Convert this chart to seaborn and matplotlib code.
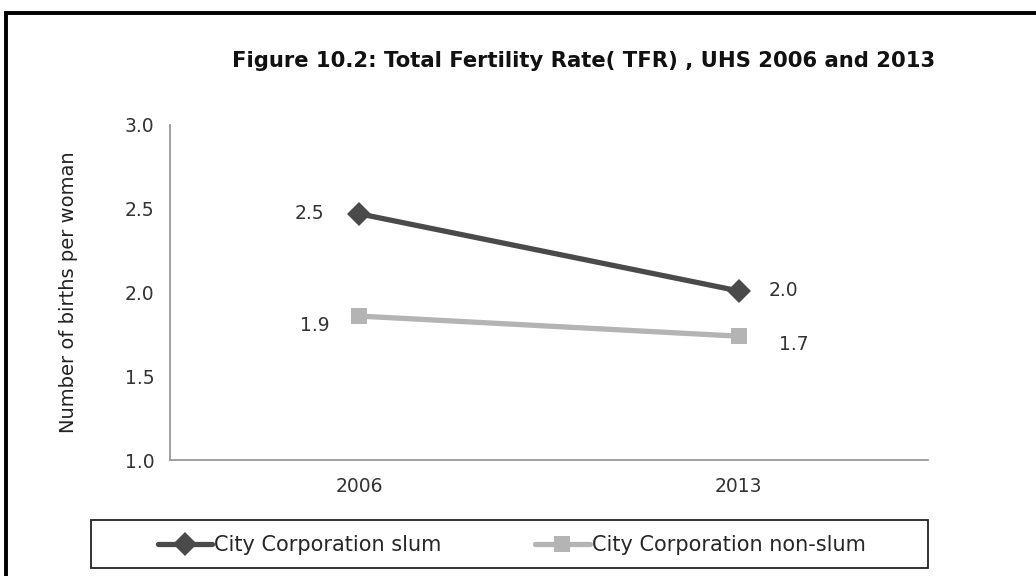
import matplotlib
matplotlib.use("Agg")
import matplotlib.pyplot as plt
import pandas as pd
import seaborn as sns
from matplotlib.patches import Rectangle

years = ["2006", "2013"]
slum = [2.47, 2.01]
non_slum = [1.86, 1.74]
series_names = ["City Corporation slum", "City Corporation non-slum"]
title = "Figure 10.2: Total Fertility Rate( TFR) , UHS 2006 and 2013"

sns.set_theme(style="white")
plt.rcParams['font.family'] = ['DejaVu Sans']

# long table for seaborn
df = pd.DataFrame({
    "Year": years * 2,
    "TFR": slum + non_slum,
    "Series": [series_names[0]] * 2 + [series_names[1]] * 2,
})

fig = plt.figure(figsize=(10.36, 5.76), dpi=100)
ax = fig.add_axes([0.164, 0.201, 0.732, 0.582])

palette = {series_names[0]: "#4a4a4a", series_names[1]: "#b4b4b4"}
markers = {series_names[0]: "D", series_names[1]: "s"}
sns.lineplot(data=df, x="Year", y="TFR", hue="Series", style="Series",
             palette=palette, markers=markers, dashes=False, linewidth=3.8,
             markersize=12, markeredgewidth=0, ax=ax)

ax.set_xlim(-0.5, 1.5)
ax.set_ylim(1.0, 3.0)
ax.set_yticks([1.0, 1.5, 2.0, 2.5, 3.0])
ax.set_yticklabels([f"{t:.1f}" for t in [1.0, 1.5, 2.0, 2.5, 3.0]])
ax.set_xlabel("")
ax.set_ylabel("Number of births per woman", fontsize=14, labelpad=34, color="#222222")
ax.tick_params(axis="y", labelsize=13.5, length=5, color="#999999", labelcolor="#333333", pad=6)
ax.tick_params(axis="x", labelsize=13.5, length=0, labelcolor="#333333", pad=12)
ax.set_xticks([-0.5, 0.5, 1.5], minor=True)
ax.tick_params(axis="x", which="minor", length=5, color="#999999")
for s in ["top", "right"]:
    ax.spines[s].set_visible(False)
for s in ["left", "bottom"]:
    ax.spines[s].set_color("#999999")
    ax.spines[s].set_linewidth(1.3)

# data labels
offsets = {series_names[0]: [(-50, 0), (45, 0)], series_names[1]: [(-45, -9), (55, -8)]}
for name, vals in zip(series_names, [slum, non_slum]):
    for i, v in enumerate(vals):
        ax.annotate(f"{v:.1f}", (i, v), xytext=offsets[name][i], textcoords="offset pixels",
                    ha="center", va="center", fontsize=13.5, color="#333333")

handles, labels = ax.get_legend_handles_labels()
ax.get_legend().remove()
fig.legend(handles, labels, loc="center", bbox_to_anchor=(0.494, 0.054), ncol=2,
           frameon=False, fontsize=15, handlelength=2.6, handletextpad=0.1,
           columnspacing=4.5)
fig.patches.append(Rectangle((0.088, 0.014), 0.808, 0.083, transform=fig.transFigure,
                             fill=False, edgecolor="#222222", linewidth=1.3))

fig.suptitle(title, x=0.563, y=0.912, fontsize=15.2, fontweight="bold", color="#111111")

# outer frame around the whole chart
fig.patches.append(Rectangle((0.006, -0.2), 1.2, 1.178, transform=fig.transFigure,
                             fill=False, edgecolor="black", linewidth=2.8, clip_on=False))

fig.savefig("out.png", dpi=100)
